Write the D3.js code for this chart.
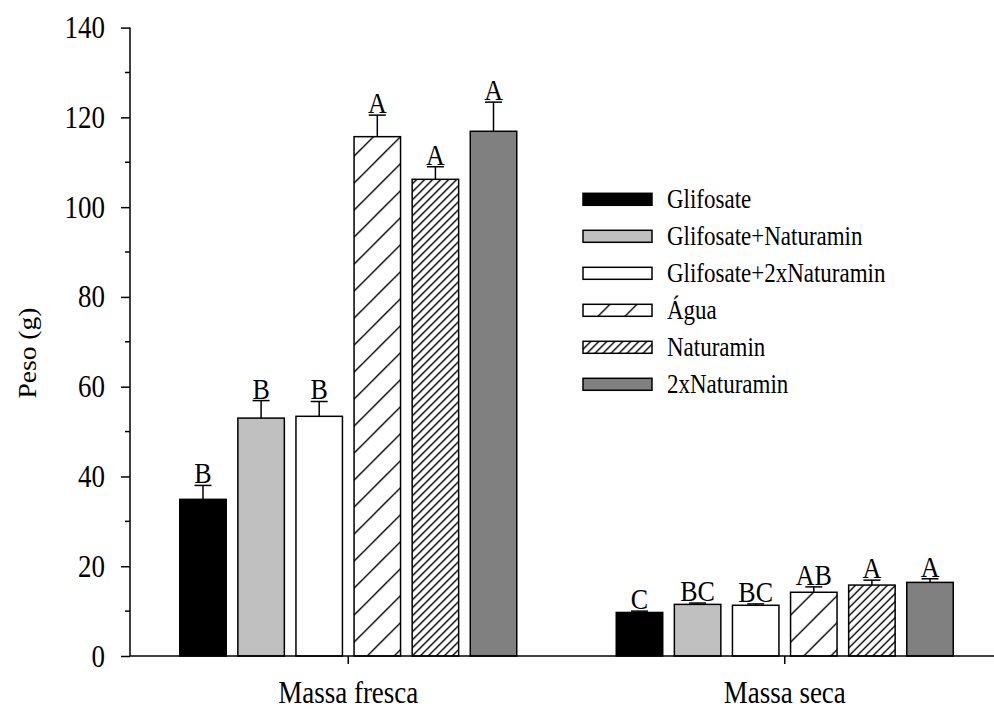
<!DOCTYPE html>
<html>
<head>
<meta charset="utf-8">
<script src="https://cdn.jsdelivr.net/npm/d3@7"></script>
<style>
  body { margin: 0; background: #fff; }
  svg text { font-family: "Liberation Serif", "Times New Roman", serif; fill: #000; }
</style>
</head>
<body>
<div id="chart"></div>
<script>
const groups = ['Massa fresca', 'Massa seca'];
const series = ['Glifosate', 'Glifosate+Naturamin', 'Glifosate+2xNaturamin', 'Água', 'Naturamin', '2xNaturamin'];
const freshMeans = [34.9, 53.0, 53.4, 115.7, 106.2, 116.9];
const freshErrors = [3.1, 3.9, 3.3, 4.8, 2.8, 6.5];
const freshLetters = ['B', 'B', 'B', 'A', 'A', 'A'];
const dryMeans = [9.7, 11.5, 11.3, 14.2, 15.8, 16.4];
const dryErrors = [0.3, 0.3, 0.3, 1.2, 1.1, 0.8];
const dryLetters = ['C', 'BC', 'BC', 'AB', 'A', 'A'];
const yTicks = [0, 20, 40, 60, 80, 100, 120, 140];
const yMinorTicks = [10, 30, 50, 70, 90, 110, 130];

const width = 994, height = 709;
const textStretch = 1.15; // the source glyphs are a bit taller than wide
const fills = {
  'Glifosate': '#000000',
  'Glifosate+Naturamin': '#c0c0c0',
  'Glifosate+2xNaturamin': '#ffffff',
  'Água': 'url(#hatchWide)',
  'Naturamin': 'url(#hatchDense)',
  '2xNaturamin': '#808080'
};

// build rows from the arrays
let data = groups.map(function (g, gi) {
  let means = gi === 0 ? freshMeans : dryMeans;
  let errs = gi === 0 ? freshErrors : dryErrors;
  let letters = gi === 0 ? freshLetters : dryLetters;
  return {
    key: g,
    values: series.map(function (s, i) {
      return {key: s, value: means[i], err: errs[i], letter: letters[i]};
    })
  };
});

// move x/y into a transform so the text can be stretched vertically around its baseline
function stretch(sel) {
  sel.each(function () {
    let t = d3.select(this);
    let tx = +t.attr('x') || 0, ty = +t.attr('y') || 0;
    t.attr('x', null).attr('y', null)
      .attr('transform', `translate(${tx},${ty}) scale(1,${textStretch})`);
  });
}

let svg = d3.select('#chart').append('svg')
  .attr('width', width)
  .attr('height', height);

// hatch patterns
let defs = svg.append('defs');
[['hatchWide', 27], ['hatchDense', 8]].forEach(function (p) {
  let s = p[1];
  let pat = defs.append('pattern')
    .attr('id', p[0])
    .attr('patternUnits', 'userSpaceOnUse')
    .attr('width', s)
    .attr('height', s);
  pat.append('rect').attr('width', s).attr('height', s).attr('fill', '#fff');
  pat.append('path')
    .attr('d', `M0,${s} L${s},0 M-2,2 L2,-2 M${s - 2},${s + 2} L${s + 2},${s - 2}`)
    .attr('stroke', '#000')
    .attr('stroke-width', 1.4);
});

let y = d3.scaleLinear()
  .domain([0, 140])
  .range([656, 27.6]);

let x0 = d3.scaleBand()
  .domain(groups)
  .range([130, 1003]);

let x1 = d3.scaleBand()
  .domain(series)
  .range([-168.5, 168.5])
  .paddingInner(0.2);

let barGroup = svg.append('g')
  .selectAll('g')
  .data(data)
  .enter().append('g')
  .attr('transform', function (d) {
    return 'translate(' + (x0(d.key) + x0.bandwidth() / 2) + ',0)';
  });

barGroup.selectAll('rect')
  .data(function (d) { return d.values; })
  .enter().append('rect')
  .attr('x', function (d) { return x1(d.key); })
  .attr('y', function (d) { return y(d.value); })
  .attr('width', x1.bandwidth())
  .attr('height', function (d) { return y(0) - y(d.value); })
  .attr('fill', function (d) { return fills[d.key]; })
  .attr('stroke', '#000')
  .attr('stroke-width', 1.5);

// error bars (upper only)
let errs = barGroup.selectAll('g.err')
  .data(function (d) { return d.values; })
  .enter().append('g')
  .attr('class', 'err')
  .attr('stroke', '#000')
  .attr('stroke-width', 1.5);

errs.append('line')
  .attr('x1', function (d) { return x1(d.key) + x1.bandwidth() / 2; })
  .attr('x2', function (d) { return x1(d.key) + x1.bandwidth() / 2; })
  .attr('y1', function (d) { return y(d.value); })
  .attr('y2', function (d) { return y(d.value + d.err); });

errs.append('line')
  .attr('x1', function (d) { return x1(d.key) + x1.bandwidth() / 2 - 8.5; })
  .attr('x2', function (d) { return x1(d.key) + x1.bandwidth() / 2 + 8.5; })
  .attr('y1', function (d) { return y(d.value + d.err); })
  .attr('y2', function (d) { return y(d.value + d.err); });

barGroup.selectAll('text.letter')
  .data(function (d) { return d.values; })
  .enter().append('text')
  .attr('class', 'letter')
  .attr('x', function (d) { return x1(d.key) + x1.bandwidth() / 2; })
  .attr('y', function (d) { return y(d.value + d.err) - 2; })
  .attr('text-anchor', 'middle')
  .attr('font-size', 26)
  .text(function (d) { return d.letter; })
  .call(stretch);

// y axis
let yAxis = svg.append('g')
  .attr('transform', 'translate(130,0)')
  .call(d3.axisLeft(y).tickValues(yTicks).tickSize(9).tickPadding(16));
yAxis.select('.domain').attr('d', `M0,${y(0)}V${y(140)}`);
yAxis.selectAll('line, path').attr('stroke', '#000').attr('stroke-width', 1.5);
yAxis.selectAll('text')
  .attr('font-size', 27)
  .attr('dy', null)
  .attr('y', 10)
  .call(stretch);

svg.append('g')
  .attr('transform', 'translate(130,0)')
  .selectAll('line')
  .data(yMinorTicks)
  .enter().append('line')
  .attr('x1', -5)
  .attr('x2', 0)
  .attr('y1', function (d) { return y(d); })
  .attr('y2', function (d) { return y(d); })
  .attr('stroke', '#000')
  .attr('stroke-width', 1.5);

// x axis
let xAxis = svg.append('g')
  .attr('transform', `translate(0,${y(0)})`)
  .call(d3.axisBottom(x0).tickSize(8).tickPadding(14));
xAxis.select('.domain').attr('d', `M130,0H${width}`);
xAxis.selectAll('line, path').attr('stroke', '#000').attr('stroke-width', 1.5);
xAxis.selectAll('text')
  .attr('font-size', 27)
  .attr('dy', null)
  .attr('y', 47)
  .call(stretch);

svg.append('text')
  .attr('transform', 'translate(36,' + y(67.5) + ') rotate(-90) scale(1.1,1)')
  .attr('text-anchor', 'middle')
  .attr('font-size', 25)
  .text('Peso (g)');

// legend
let legend = svg.append('g')
  .selectAll('g')
  .data(series)
  .enter().append('g')
  .attr('transform', function (d, i) {
    return 'translate(583,' + (193.3 + i * 37) + ')';
  });

legend.append('rect')
  .attr('width', 69)
  .attr('height', 12)
  .attr('fill', function (d) { return fills[d]; })
  .attr('stroke', '#000')
  .attr('stroke-width', 1.5);

legend.append('text')
  .attr('x', 84)
  .attr('y', 14.5)
  .attr('font-size', 23)
  .text(function (d) { return d; })
  .call(stretch);
</script>
</body>
</html>
